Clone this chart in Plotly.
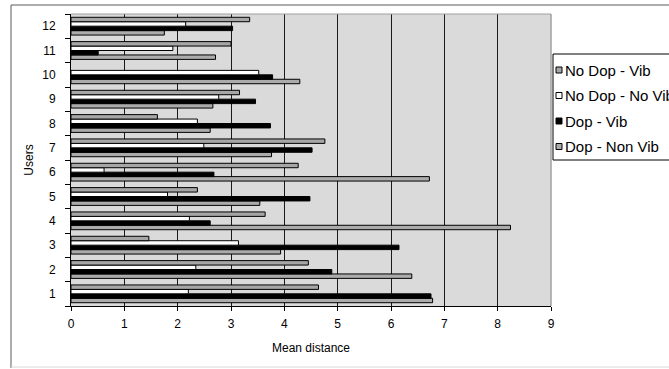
import plotly.graph_objects as go

# Mean distance per user for each condition
users = ["1", "2", "3", "4", "5", "6", "7", "8", "9", "10", "11", "12"]
dop_non_vib = [6.78, 6.39, 3.93, 8.24, 3.54, 6.72, 3.76, 2.61, 2.66, 4.29, 2.71, 1.75]
dop_vib = [6.75, 4.89, 6.15, 2.61, 4.48, 2.68, 4.52, 3.74, 3.46, 3.78, 0.51, 3.03]
nodop_novib = [2.20, 2.34, 3.14, 2.22, 1.81, 0.62, 2.49, 2.37, 2.77, 3.52, 1.91, 2.15]
nodop_vib = [4.64, 4.45, 1.46, 3.64, 2.37, 4.26, 4.76, 1.62, 3.16, None, 3.00, 3.35]

series_names = ["Dop - Non Vib", "Dop - Vib", "No Dop - No Vib", "No Dop - Vib"]
series_values = [dop_non_vib, dop_vib, nodop_novib, nodop_vib]
series_colors = ["#ababab", "#000000", "#ffffff", "#a6a6a6"]
x_ticks = list(range(0, 10))

FONT = "Liberation Sans, Arial, sans-serif"
W, H = 669, 369
L, R, T, B = 71, 551, 14, 306  # plot area edges in pixels


def px_x(p):
    return (p - L) / (R - L)


def px_y(p):
    return (B - p) / (B - T)


fig = go.Figure()
for name, vals, col in zip(series_names, series_values, series_colors):
    fig.add_trace(go.Bar(
        x=vals, y=users, orientation="h", name=name,
        marker=dict(color=col, line=dict(color="#000000", width=1)),
        showlegend=False,
    ))

shapes = []
annotations = []

# outer chart frame
shapes.append(dict(type="line", xref="paper", yref="paper",
                   x0=px_x(11), x1=px_x(11), y0=px_y(368), y1=px_y(5),
                   line=dict(color="#5a5a5a", width=1)))
shapes.append(dict(type="line", xref="paper", yref="paper",
                   x0=px_x(11), x1=px_x(700), y0=px_y(5), y1=px_y(5),
                   line=dict(color="#5a5a5a", width=1)))
shapes.append(dict(type="line", xref="paper", yref="paper",
                   x0=px_x(11), x1=px_x(700), y0=px_y(367), y1=px_y(367),
                   line=dict(color="#d8d8d8", width=1)))

# plot-area frame on the top and right
shapes.append(dict(type="line", xref="paper", yref="paper", layer="above",
                   x0=0, x1=1, y0=1, y1=1, line=dict(color="#a0a0a0", width=1)))
shapes.append(dict(type="line", xref="paper", yref="paper", layer="above",
                   x0=1, x1=1, y0=0, y1=1, line=dict(color="#a0a0a0", width=1.5)))

# legend box
shapes.append(dict(type="rect", xref="paper", yref="paper", layer="above",
                   x0=px_x(553), x1=px_x(720), y0=px_y(160), y1=px_y(54),
                   fillcolor="#ffffff", line=dict(color="#000000", width=1)))

item_y = [70, 95.5, 121, 146.5]
for i, idx in enumerate(reversed(range(len(series_names)))):
    yc = item_y[i]
    shapes.append(dict(type="rect", xref="paper", yref="paper", layer="above",
                       x0=px_x(556), x1=px_x(562), y0=px_y(yc + 3), y1=px_y(yc - 3),
                       fillcolor=series_colors[idx], line=dict(color="#000000", width=1)))
    annotations.append(dict(text=series_names[idx], xref="paper", yref="paper",
                            x=px_x(563), y=px_y(yc), xanchor="left", yanchor="middle",
                            showarrow=False, font=dict(family=FONT, size=15, color="#000000")))

fig.update_layout(
    width=W, height=H,
    margin=dict(l=L, r=W - R, t=T, b=H - B, autoexpand=False),
    paper_bgcolor="#ffffff",
    plot_bgcolor="#dadada",
    barmode="group",
    bargap=0.27,
    bargroupgap=0,
    font=dict(family=FONT, color="#000000"),
    shapes=shapes,
    annotations=annotations,
    xaxis=dict(
        range=[0, 9], tickvals=x_ticks, ticktext=[str(v) for v in x_ticks],
        showgrid=True, gridcolor="#1a1a1a", gridwidth=1,
        zeroline=False, showline=True, linecolor="#000000", linewidth=1,
        ticks="outside", ticklen=4, tickcolor="#000000",
        tickfont=dict(family=FONT, size=12), ticklabelstandoff=3,
        title=dict(text="Mean distance", font=dict(family=FONT, size=12), standoff=13),
    ),
    yaxis=dict(
        type="category", categoryorder="array", categoryarray=users,
        showgrid=False, zeroline=False, showline=True, linecolor="#000000", linewidth=1,
        ticks="outside", ticklen=5, tickcolor="#000000", tickson="boundaries",
        tickfont=dict(family=FONT, size=12), ticklabelstandoff=12,
        title=dict(text="Users", font=dict(family=FONT, size=12), standoff=6),
    ),
)

fig.write_html("out.html")
